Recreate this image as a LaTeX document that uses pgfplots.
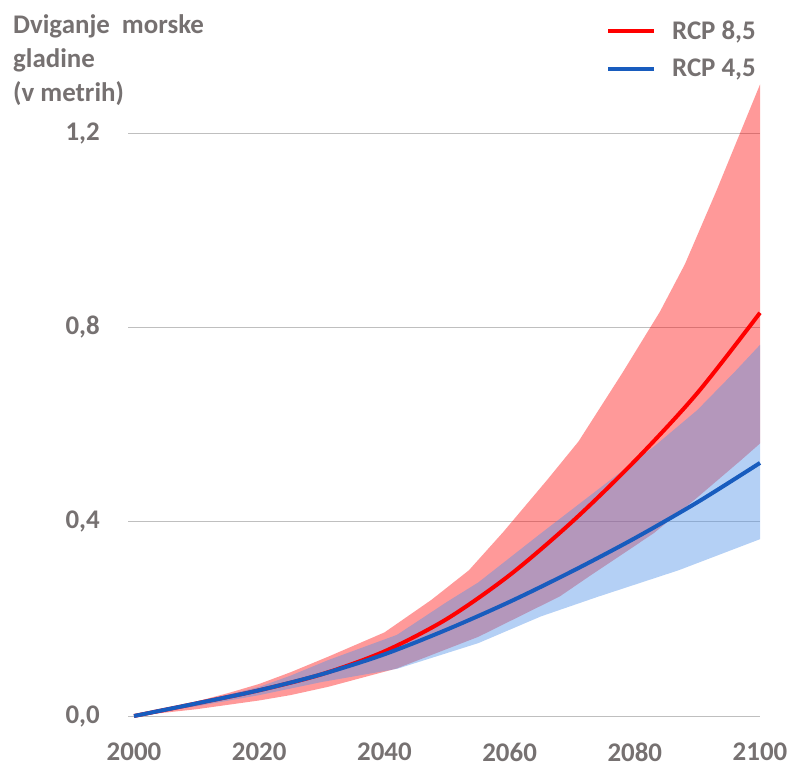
\documentclass[border=0pt]{standalone}
\usepackage{fontspec}
\setmainfont{Carlito}
\usepackage{pgfplots}
\pgfplotsset{compat=1.18}
\usepgfplotslibrary{fillbetween}
\definecolor{txtgray}{RGB}{118,113,113}
\definecolor{bandred}{RGB}{255,0,0}
\definecolor{bandblue}{RGB}{85,148,232}
\definecolor{lineblue}{RGB}{24,92,190}
\definecolor{linered}{RGB}{255,0,0}
\begin{document}
\begin{tikzpicture}
\begin{axis}[
  scale only axis,
  width=632bp, height=631.5bp,
  xmin=1999.04, xmax=2100,
  ymin=0, ymax=1.3,
  clip=false,
  axis line style={draw=none},
  major tick style={draw=none},
  minor tick style={draw=none},
  xtick={2000,2020,2040,2060,2080,2100},
  xticklabels={2000,2020,2040,2060,2080,2100},
  ytick={0,0.4,0.8,1.2},
  yticklabels={{0,0},{0,4},{0,8},{1,2}},
  ymajorgrids=true,
  major grid style={black, opacity=0.25, line width=1bp},
  tick label style={font=\fontsize{27}{32}\selectfont\bfseries, text=txtgray},
  xticklabel style={inner sep=0pt, anchor=north, yshift=-27bp},
  yticklabel style={inner sep=0pt, anchor=east, xshift=-28bp},
  legend image code/.code={\draw[#1, line width=4bp] (0bp,0bp) -- (46bp,0bp);},
  legend style={draw=none, fill=none, inner sep=0pt, outer sep=0pt,
    at={(0.7564,1.1001)}, anchor=north west,
    font=\fontsize{27}{32}\selectfont\bfseries, text=txtgray,
    nodes={inner sep=0pt},
    row sep=18bp,
    /tikz/every odd column/.append style={column sep=16bp}},
  legend cell align=left,
]
% RCP 8.5 band
\addplot[name path=ru, draw=none, forget plot] coordinates {
(2000,0) (2010,0.03) (2015,0.047) (2020,0.066) (2025,0.09) (2031,0.122) (2040,0.172) (2047.5,0.239) (2053.5,0.30) (2059,0.379) (2066,0.486) (2071,0.565) (2078,0.706) (2084,0.832) (2088,0.93) (2093,1.08) (2100,1.30)};
\addplot[name path=rl, draw=none, forget plot] coordinates {
(2000,0) (2010,0.014) (2015,0.023) (2020,0.032) (2025,0.043) (2031,0.060) (2042,0.098) (2055,0.163) (2068,0.246) (2073,0.29) (2083,0.376) (2090,0.45) (2097,0.527) (2100,0.561)};
\addplot[fill=bandred, fill opacity=0.4, draw=none, forget plot] fill between[of=ru and rl];
% RCP 4.5 band
\addplot[name path=bu, draw=none, forget plot] coordinates {
(2000,0) (2010,0.028) (2020,0.06) (2025,0.083) (2031,0.115) (2042,0.167) (2050,0.235) (2055,0.275) (2065,0.376) (2075,0.475) (2083,0.554) (2090,0.63) (2096,0.709) (2100,0.764)};
\addplot[name path=bl, draw=none, forget plot] coordinates {
(2000,0) (2010,0.02) (2020,0.043) (2030,0.07) (2042,0.097) (2055,0.15) (2065,0.205) (2074,0.245) (2087,0.30) (2100,0.364)};
\addplot[fill=bandblue, fill opacity=0.44, draw=none, forget plot] fill between[of=bu and bl];
% median lines
\addplot[linered, line width=4bp, smooth] coordinates {
(2000,0) (2010,0.026) (2020,0.053) (2030,0.086) (2040,0.133) (2050,0.20) (2060,0.29) (2070,0.40) (2080,0.525) (2090,0.665) (2100,0.83)};
\addlegendentry{RCP 8,5}
\addplot[lineblue, line width=4bp, smooth] coordinates {
(2000,0) (2010,0.026) (2020,0.053) (2030,0.086) (2040,0.127) (2050,0.178) (2060,0.235) (2070,0.298) (2080,0.366) (2090,0.44) (2100,0.521)};
\addlegendentry{RCP 4,5}
\end{axis}
\begin{scope}[every node/.style={anchor=base west, inner sep=0pt, text=txtgray, font=\fontsize{27}{32}\selectfont\bfseries}]
\node at (-115bp,682.7bp) {Dviganje\hspace{0.45em}morske};
\node at (-115bp,648bp) {gladine};
\node at (-115bp,614.3bp) {(v metrih)};
\end{scope}
\pgfresetboundingbox
\path[use as bounding box] (-128bp,-58bp) rectangle (659bp,716bp);
\end{tikzpicture}
\end{document}
